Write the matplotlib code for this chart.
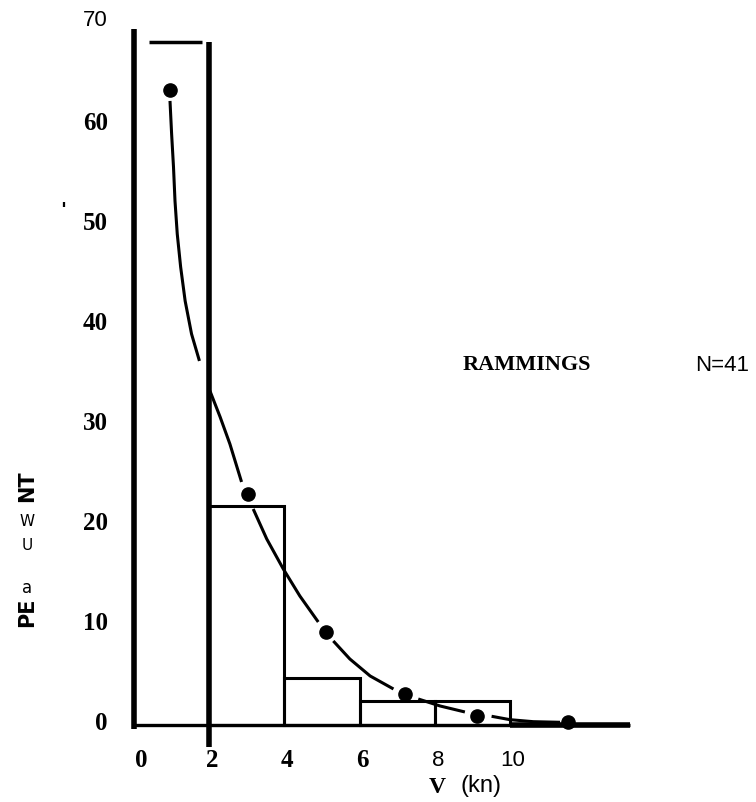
import matplotlib
matplotlib.use("Agg")
import matplotlib.pyplot as plt

# histogram of ramming speeds, percent of N=41
bin_edges = [0, 2, 4, 6, 8, 10]
percent = [68.3, 21.9, 4.7, 2.4, 2.4]

# observed points
pt_x = [0.96, 3.04, 5.10, 7.22, 9.13, 11.55]
pt_y = [63.5, 23.1, 9.3, 3.1, 0.87, 0.27]

# hand drawn fitted curve (pieces broken at the dots)
curve = [
    ([0.957, 1.00, 1.05, 1.09, 1.15, 1.24, 1.36, 1.53, 1.74],
     [62.4, 59.1, 55.8, 52.4, 49.1, 45.8, 42.4, 39.1, 36.4]),
    ([2.02, 2.29, 2.55, 2.86],
     [33.4, 30.8, 28.1, 24.3]),
    ([3.17, 3.53, 3.97, 4.41, 4.90],
     [21.6, 18.6, 15.6, 12.9, 10.3]),
    ([5.30, 5.74, 6.28, 6.90],
     [8.4, 6.6, 4.9, 3.6]),
    ([7.56, 8.14, 8.80],
     [2.6, 1.9, 1.3]),
    ([9.51, 10.0, 10.62, 11.33],
     [0.87, 0.53, 0.33, 0.27]),
]

yticks = [0, 10, 20, 30, 40, 50, 60, 70]
xticks = [0, 2, 4, 6, 8, 10]

serif = ["Liberation Serif", "DejaVu Serif"]
plain = ["Liberation Sans", "DejaVu Sans"]

fig = plt.figure(figsize=(7.56, 8.03), dpi=100)
ax = fig.add_axes([0.1524, 0.0461, 0.6963, 0.9465])
ax.set_xlim(-0.5, 13.5)
ax.set_ylim(-4, 72)
ax.axis("off")

# bars 2..10
ax.bar(bin_edges[1:-1], percent[1:], width=2, align="edge", fill=False,
       edgecolor="black", linewidth=2.2)
# first bar: floating top and long right side
ax.hlines(percent[0], bin_edges[0] + 0.4, bin_edges[1] - 0.2, color="black", lw=2.5)
ax.vlines(bin_edges[1], -2.2, percent[0], color="black", lw=4)
# axes lines
ax.vlines(0, -0.4, 69.6, color="black", lw=4)
ax.hlines(0, 0, 13.2, color="black", lw=2.4)
ax.hlines(0, 10, 13.2, color="black", lw=4)

for cx, cy in curve:
    ax.plot(cx, cy, color="black", lw=2.2, solid_capstyle="butt",
            solid_joinstyle="round")
ax.plot(pt_x, pt_y, "o", color="black", ms=9.5)

# y tick labels
for v in yticks:
    if v == 70:
        ax.text(-0.7, v + 0.5, str(v), ha="right", va="center",
                family=plain, fontsize=16)
    else:
        ax.text(-0.7, v + 0.2, str(v), ha="right", va="center",
                family=serif, weight="bold", fontsize=18)

# x tick labels
for v in xticks:
    xo = 0.2 if v == 0 else 0.08
    if v >= 8:
        ax.text(v + xo, -3.5, str(v), ha="center", va="center",
                family=plain, fontsize=16)
    else:
        ax.text(v + xo, -3.5, str(v), ha="center", va="center",
                family=serif, weight="bold", fontsize=18)

fig.text(0.579, 0.019, "V", ha="center", va="center", family=serif,
         weight="bold", fontsize=17)
fig.text(0.636, 0.021, "(kn)", ha="center", va="center", family=plain,
         fontsize=17)

ax.text(10.45, 36.1, "RAMMINGS", ha="center", va="center", family=serif,
        weight="bold", fontsize=16)
fig.text(0.955, 0.545, "N=41", ha="center", va="center", family=plain,
         fontsize=16)

# garbled y label from the scan
fig.text(0.036, 0.237, "PE", rotation=90, ha="center", va="center",
         family="DejaVu Sans", weight="bold", fontsize=15)
fig.text(0.036, 0.268, "a", ha="center", va="center", family="DejaVu Sans",
         fontsize=12)
fig.text(0.036, 0.321, "U", ha="center", va="center", family="DejaVu Sans",
         fontsize=11)
fig.text(0.036, 0.351, "W", ha="center", va="center", family="DejaVu Sans",
         fontsize=11)
fig.text(0.036, 0.394, "NT", rotation=90, ha="center", va="center",
         family="DejaVu Sans", weight="bold", fontsize=15)
fig.text(0.084, 0.738, "'", ha="center", va="center", weight="bold", fontsize=14)

fig.savefig("out.png", dpi=100)
